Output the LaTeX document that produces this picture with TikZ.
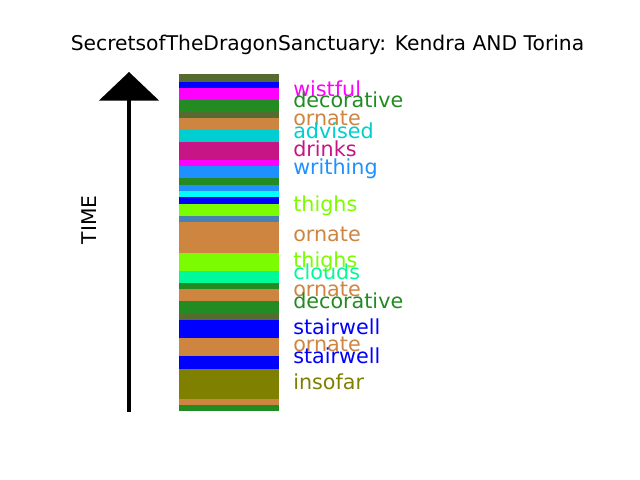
\documentclass[tikz,border=0pt]{standalone}
\usepackage{fontspec}
\setmainfont{DejaVu Sans}
\definecolor{dolive}{HTML}{556B2F}
\definecolor{fgreen}{HTML}{228B22}
\definecolor{peru}{HTML}{CD853F}
\definecolor{dturq}{HTML}{00CED1}
\definecolor{mvred}{HTML}{C71585}
\definecolor{dodger}{HTML}{1E90FF}
\definecolor{aquac}{HTML}{00FFFF}
\definecolor{lawn}{HTML}{7CFC00}
\definecolor{steel}{HTML}{4682B4}
\definecolor{mspring}{HTML}{00FA9A}
\definecolor{olivec}{HTML}{808000}
\definecolor{bluec}{HTML}{0000FF}
\definecolor{magc}{HTML}{FF00FF}
\begin{document}
\begin{tikzpicture}[x=0.72pt,y=-0.72pt,
  lbl/.style={anchor=base west,inner sep=0pt,font=\fontsize{14.9pt}{17pt}\selectfont},
  ttl/.style={anchor=base,inner sep=0pt,font=\fontsize{14.6pt}{17pt}\selectfont}]
\useasboundingbox (0,0) rectangle (640,480);
\node[ttl] (title) at (327.5,50) {SecretsofTheDragonSanctuary: Kendra AND Torina};
% stripes
\foreach \a/\b/\c in {74/82/dolive,82/88/bluec,88/100/magc,100/112/fgreen,112/118/dolive,118/130/peru,130/142/dturq,142/160/mvred,160/166/magc,166/178/dodger,178/185/fgreen,185/191/dodger,191/197/aquac,197/204/bluec,204/216/lawn,216/222/steel,222/253/peru,253/271/lawn,271/283/mspring,283/289/fgreen,289/301/peru,301/314/fgreen,314/320/dolive,320/338/bluec,338/356/peru,356/369/bluec,369/399/olivec,399/405/peru,405/411/fgreen}
  {\fill[\c] (179,\a) rectangle (279,\b);}
% arrow
\coordinate (tail) at (129,412);
\coordinate (headbase) at (129,100);
\draw[line width=3.4pt] (tail) -- (headbase);
\fill (99,100.5) -- (129,72) -- (159,100.5) -- cycle;
\node[rotate=90,anchor=center,inner sep=0pt,font=\fontsize{14.6pt}{17pt}\selectfont] (time) at (89,220) {TIME};
% labels
\node[lbl,text=magc] (l1) at (293,96.7) {wistful};
\node[lbl,text=fgreen] (l2) at (293,107.7) {decorative};
\node[lbl,text=peru] (l3) at (293,125) {ornate};
\node[lbl,text=dturq] (l4) at (293,138.3) {advised};
\node[lbl,text=mvred] (l5) at (293,156.7) {drinks};
\node[lbl,text=dodger] (l6) at (293,174.3) {writhing};
\node[lbl,text=lawn] (l7) at (293,211.7) {thighs};
\node[lbl,text=peru] (l8) at (293,241.7) {ornate};
\node[lbl,text=lawn] (l9) at (293,267.3) {thighs};
\node[lbl,text=mspring] (l10) at (293,279.3) {clouds};
\node[lbl,text=peru] (l11) at (293,296.7) {ornate};
\node[lbl,text=fgreen] (l12) at (293,308.7) {decorative};
\node[lbl,text=bluec] (l13) at (293,334) {stairwell};
\node[lbl,text=peru] (l14) at (293,351.7) {ornate};
\node[lbl,text=bluec] (l15) at (293,363.3) {stairwell};
\node[lbl,text=olivec] (l16) at (293,389) {insofar};
\end{tikzpicture}
\end{document}
